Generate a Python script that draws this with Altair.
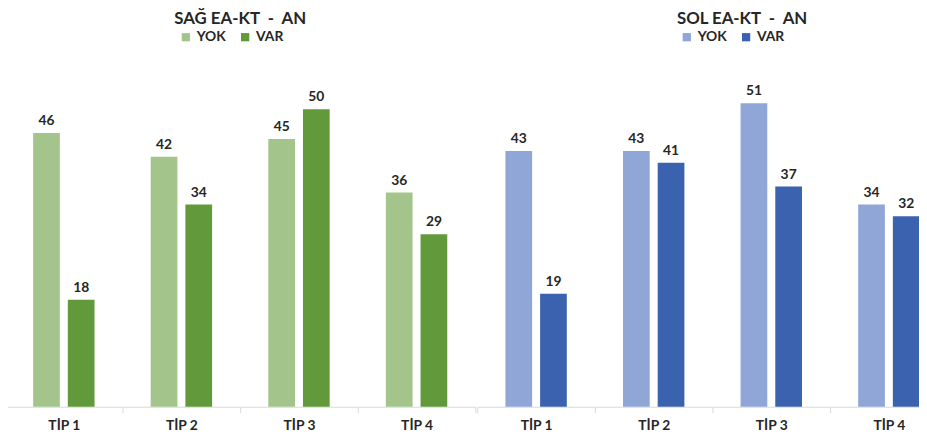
import altair as alt
import pandas as pd

tips = ["TİP 1", "TİP 2", "TİP 3", "TİP 4"]
groups = ["YOK", "VAR"]
sag_yok = [46, 42, 45, 36]
sag_var = [18, 34, 50, 29]
sol_yok = [43, 43, 51, 34]
sol_var = [19, 41, 37, 32]

sag_colors = ["#A3C58C", "#62993B"]
sol_colors = ["#8FA6D6", "#3B62AE"]

FONT = "Lato"
TXT = "#262626"
GRID = "#d9d9d9"
Y_MAX = 60.45
H = 364
W = 476


def frame(yok, var):
    rows = []
    for t, a, b in zip(tips, yok, var):
        rows.append({"tip": t, "g": "YOK", "v": a})
        rows.append({"tip": t, "g": "VAR", "v": b})
    return pd.DataFrame(rows)


def panel(df, title, colors, legend_x, title_dx):
    x = alt.X("tip:N", sort=tips, scale=alt.Scale(paddingInner=0, paddingOuter=0),
              axis=alt.Axis(title=None, labelAngle=0, tickBand="extent",
                            labelFont=FONT, labelFontSize=14, labelFontWeight="bold",
                            labelColor=TXT, labelPadding=6, tickSize=6,
                            tickColor=GRID, domainColor=GRID))
    xo = alt.XOffset("g:N", sort=groups,
                     scale=alt.Scale(paddingInner=0.23, paddingOuter=0.81))
    y = alt.Y("v:Q", scale=alt.Scale(domain=[0, Y_MAX], nice=False), axis=None)
    color = alt.Color("g:N", sort=groups,
                      scale=alt.Scale(domain=groups, range=colors),
                      legend=alt.Legend(title=None, orient="none", direction="horizontal",
                                        legendX=legend_x, legendY=-17,
                                        symbolType="square", symbolSize=70,
                                        symbolStrokeWidth=0, labelFont=FONT,
                                        labelFontSize=14, labelFontWeight="bold",
                                        labelColor=TXT, columnPadding=12,
                                        symbolOffset=0))
    base = alt.Chart(df)
    bars = base.mark_bar().encode(x=x, xOffset=xo, y=y, color=color)
    labels = base.mark_text(dy=-12, font=FONT, fontSize=14, fontWeight="bold",
                            color=TXT).encode(x=x, xOffset=xo, y=y, text="v:Q")
    return alt.layer(bars, labels).properties(
        width=W, height=H,
        title=alt.TitleParams(title, font=FONT, fontSize=17, fontWeight="bold",
                              color=TXT, anchor="middle", offset=2, dx=title_dx))


left = panel(frame(sag_yok, sag_var), "SAĞ EA-KT\u00a0\u00a0-\u00a0\u00a0AN", sag_colors,
             176, 0)
right = panel(frame(sol_yok, sol_var), "SOL EA-KT\u00a0\u00a0-\u00a0\u00a0AN", sol_colors,
              205, 30)

chart = alt.hconcat(left, right, spacing=0).resolve_scale(
    color="independent", x="independent", y="independent", xOffset="independent"
).resolve_legend(color="independent").properties(
    padding={"top": 0, "left": -4, "right": -30, "bottom": -2}
).configure_view(stroke=None)

chart.save("out.html", embed_options={"renderer": "svg", "actions": False})
